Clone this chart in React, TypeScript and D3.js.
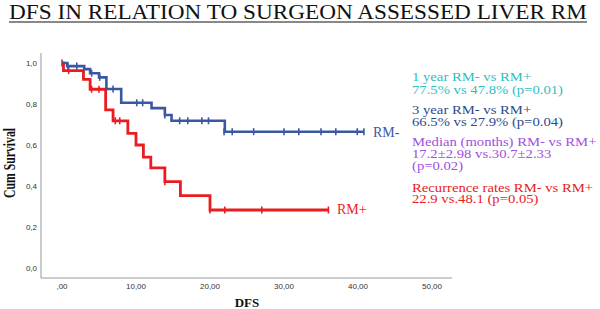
import React from "react";
import * as d3 from "d3";

const title = "DFS IN RELATION TO SURGEON ASSESSED LIVER RM";
const xTicks = [0, 10, 20, 30, 40, 50];
const xTickLabels = [",00", "10,00", "20,00", "30,00", "40,00", "50,00"];
const yTicks = [0, 0.2, 0.4, 0.6, 0.8, 1.0];
const yTickLabels = ["0,0", "0,2", "0,4", "0,6", "0,8", "1,0"];

// RM- (blue) step events: [time, survival after event]
const rmMinusEvents: [number, number][] = [
  [0, 1.0], [0.7, 0.985], [3.0, 0.97], [3.8, 0.95], [5.0, 0.93], [6.0, 0.873],
  [8.0, 0.806], [12.1, 0.78], [13.9, 0.746], [14.8, 0.718], [22.0, 0.665], [40.8, 0.665],
];
const rmMinusCensored: [number, number][] = [
  [0.8, 0.985], [2.0, 0.985], [4.0, 0.95], [5.1, 0.93], [6.9, 0.873], [10.1, 0.806],
  [10.9, 0.806], [13.9, 0.746], [15.9, 0.718], [17.0, 0.718], [18.9, 0.718], [19.8, 0.718],
  [21.9, 0.665], [23.0, 0.665], [25.9, 0.665], [30.0, 0.665], [32.0, 0.665], [35.0, 0.665],
  [37.0, 0.665], [39.9, 0.665], [40.8, 0.665],
];

// RM+ (red)
const rmPlusEvents: [number, number][] = [
  [0, 1.0], [0.2, 0.963], [2.9, 0.92], [3.8, 0.872], [5.9, 0.771], [6.9, 0.718],
  [8.9, 0.657], [10.0, 0.6], [11.0, 0.541], [12.0, 0.488], [13.9, 0.421], [16.0, 0.353],
  [20.0, 0.283], [36.0, 0.283],
];
const rmPlusCensored: [number, number][] = [
  [0.0, 1.0], [0.9, 0.963], [4.0, 0.872], [5.0, 0.872], [7.2, 0.718], [7.8, 0.718],
  [13.9, 0.421], [20.0, 0.283], [22.0, 0.283], [27.0, 0.283], [36.0, 0.283],
];

const annotations = [
  { lines: ["1 year RM- vs RM+", "77.5% vs 47.8% (p=0.01)"], color: "#2fbfc0", ys: [81, 94] },
  { lines: ["3 year RM- vs RM+", "66.5% vs 27.9% (p=0.04)"], color: "#2c4a8c", ys: [114, 126] },
  { lines: ["Median (months) RM- vs RM+", "17.2±2.98 vs.30.7±2.33", "(p=0.02)"], color: "#a04fe0", ys: [146, 158, 170] },
  { lines: ["Recurrence rates RM- vs RM+", "22.9 vs.48.1 (p=0.05)"], color: "#e81c1c", ys: [192, 203] },
];

const BLUE = "#3a58a2";
const RED = "#ea1c1f";

export default function App() {
  const W = 600, H = 309;
  const x = d3.scaleLinear().domain([0, 50]).range([62, 432]);
  const y = d3.scaleLinear().domain([0, 1]).range([268, 63]);
  const line = d3.line<[number, number]>().x(d => x(d[0])).y(d => y(d[1])).curve(d3.curveStepAfter);
  const serif = "'Liberation Serif', 'Times New Roman', serif";
  const sans = "'Liberation Sans', Arial, sans-serif";

  const censor = (pts: [number, number][], color: string, key: string) =>
    pts.map((p, i) => (
      <line key={key + i} x1={x(p[0])} x2={x(p[0])} y1={y(p[1]) - 3.5} y2={y(p[1]) + 3.5} stroke={color} strokeWidth={1.6} />
    ));

  return (
    <svg width={W} height={H} style={{ position: "absolute", left: 0, top: 0, background: "#fff" }}>
      <rect width={W} height={H} fill="#fff" />
      <text x={9} y={19} fontFamily={serif} fontSize={22} fill="#111" textLength={578} lengthAdjust="spacingAndGlyphs">{title}</text>
      <line x1={9} x2={587} y1={22} y2={22} stroke="#888" strokeWidth={2} />

      {/* axes */}
      <line x1={41} x2={41} y1={53} y2={278} stroke="#999" strokeWidth={1} />
      <line x1={41} x2={452} y1={278} y2={278} stroke="#999" strokeWidth={1} />
      {yTicks.map((t, i) => (
        <text key={"yt" + i} x={37} y={y(t) + 3} textAnchor="end" fontFamily={sans} fontSize={8} fill="#333">{yTickLabels[i]}</text>
      ))}
      {xTicks.map((t, i) => (
        <text key={"xt" + i} x={x(t)} y={289} textAnchor="middle" fontFamily={sans} fontSize={8} fill="#333">{xTickLabels[i]}</text>
      ))}
      <text transform="translate(15,163) rotate(-90)" textAnchor="middle" fontFamily={serif} fontWeight="bold" fontSize={16} fill="#111" textLength={70} lengthAdjust="spacingAndGlyphs">Cum Survival</text>
      <text x={247} y={307} textAnchor="middle" fontFamily={serif} fontWeight="bold" fontSize={13} fill="#111">DFS</text>

      {/* curves */}
      <path d={line(rmPlusEvents) || ""} fill="none" stroke={RED} strokeWidth={2.8} />
      {censor(rmPlusCensored, RED, "rc")}
      <path d={line(rmMinusEvents) || ""} fill="none" stroke={BLUE} strokeWidth={2.6} />
      {censor(rmMinusCensored, BLUE, "bc")}

      <text x={373} y={137} fontFamily={serif} fontSize={14} fill={BLUE}>RM-</text>
      <text x={337} y={214} fontFamily={serif} fontSize={14} fill={RED}>RM+</text>

      <g transform="translate(412,0) scale(1.13,1)">
        {annotations.map((a, i) =>
          a.lines.map((l, j) => (
            <text key={"an" + i + "-" + j} x={0} y={a.ys[j]} fontFamily={serif} fontSize={13} fill={a.color}>{l}</text>
          ))
        )}
      </g>
    </svg>
  );
}
